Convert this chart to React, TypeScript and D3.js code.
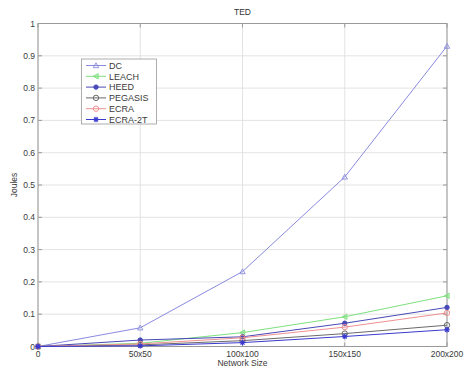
import React from "react";
import * as d3 from "d3";

const categories = ["0", "50x50", "100x100", "150x150", "200x200"];
const seriesNames = ["DC", "LEACH", "HEED", "PEGASIS", "ECRA", "ECRA-2T"];
const dc = [0, 0.058, 0.232, 0.525, 0.93];
const leach = [0, 0.01, 0.043, 0.092, 0.157];
const heed = [0, 0.02, 0.03, 0.072, 0.121];
const pegasis = [0, 0.005, 0.018, 0.04, 0.066];
const ecra = [0, 0.008, 0.027, 0.06, 0.104];
const ecra2t = [0, 0.002, 0.012, 0.031, 0.052];
const yTicks = [0, 0.1, 0.2, 0.3, 0.4, 0.5, 0.6, 0.7, 0.8, 0.9, 1];

const colors = ["#8a8ae0", "#7ee07e", "#4848b8", "#6a6a6a", "#f09090", "#3a3ad0"];
const markers = ["triangle", "triLeft", "dot", "circle", "circle", "star"];
const allSeries = [dc, leach, heed, pegasis, ecra, ecra2t];

function Marker({ type, x, y, color }: { type: string; x: number; y: number; color: string }) {
  const r = 2.7;
  if (type === "triangle")
    return <path d={`M${x},${y - r}L${x + r},${y + r * 0.8}L${x - r},${y + r * 0.8}Z`} fill="none" stroke={color} strokeWidth={0.9} />;
  if (type === "triLeft")
    return <path d={`M${x - r},${y}L${x + r * 0.8},${y - r}L${x + r * 0.8},${y + r}Z`} fill={color} fillOpacity={0.5} stroke={color} strokeWidth={0.9} />;
  if (type === "dot") return <circle cx={x} cy={y} r={2.2} fill={color} stroke={color} />;
  if (type === "circle") return <circle cx={x} cy={y} r={2.7} fill="none" stroke={color} strokeWidth={1} />;
  return (
    <g stroke={color} strokeWidth={1.2}>
      <line x1={x - r} y1={y} x2={x + r} y2={y} />
      <line x1={x} y1={y - r} x2={x} y2={y + r} />
      <line x1={x - 2} y1={y - 2} x2={x + 2} y2={y + 2} />
      <line x1={x - 2} y1={y + 2} x2={x + 2} y2={y - 2} />
    </g>
  );
}

export default function App() {
  const W = 465, H = 374;
  const left = 38, right = 447, top = 23.5, bottom = 346.5;
  const x = d3.scalePoint<string>().domain(categories).range([left, right]);
  const y = d3.scaleLinear().domain([0, 1]).range([bottom, top]);
  const line = d3.line<number>().x((_, i) => x(categories[i])!).y((v) => y(v));
  const font = "Liberation Sans, Arial, sans-serif";
  const textColor = "#3a3a3a";
  const fs = 8.5;
  return (
    <svg width={W} height={H} style={{ position: "absolute", left: 0, top: 0, background: "#fff" }} fontFamily={font}>
      <rect x={0} y={0} width={W} height={H} fill="#fff" />
      {categories.map((c) => (
        <line key={c} x1={x(c)} x2={x(c)} y1={top} y2={bottom} stroke="#dcdcdc" strokeWidth={0.8} />
      ))}
      {yTicks.map((t) => (
        <line key={t} x1={left} x2={right} y1={y(t)} y2={y(t)} stroke="#dcdcdc" strokeWidth={0.8} />
      ))}
      <rect x={left} y={top} width={right - left} height={bottom - top} fill="none" stroke="#999" strokeWidth={1} />
      {yTicks.map((t) => (
        <g key={"yt" + t}>
          <line x1={left} x2={left + 4} y1={y(t)} y2={y(t)} stroke="#999" />
          <line x1={right} x2={right - 4} y1={y(t)} y2={y(t)} stroke="#999" />
          <text x={left - 3} y={y(t) + 3} fontSize={fs} textAnchor="end" fill={textColor}>{t}</text>
        </g>
      ))}
      {categories.map((c) => (
        <g key={"xt" + c}>
          <line x1={x(c)} x2={x(c)} y1={bottom} y2={bottom - 4} stroke="#999" />
          <line x1={x(c)} x2={x(c)} y1={top} y2={top + 4} stroke="#999" />
          <text x={x(c)} y={bottom + 10} fontSize={fs} textAnchor="middle" fill={textColor}>{c}</text>
        </g>
      ))}
      {allSeries.map((s, i) => (
        <g key={seriesNames[i]}>
          <path d={line(s)!} fill="none" stroke={colors[i]} strokeWidth={1} />
          {s.map((v, j) => (
            <Marker key={j} type={markers[i]} x={x(categories[j])!} y={y(v)} color={colors[i]} />
          ))}
        </g>
      ))}
      <text x={(left + right) / 2} y={15} fontSize={fs} textAnchor="middle" fill="#333">TED</text>
      <text x={(left + right) / 2} y={366} fontSize={fs} textAnchor="middle" fill={textColor}>Network Size</text>
      <text transform={`translate(17,${(top + bottom) / 2}) rotate(-90)`} fontSize={fs} textAnchor="middle" fill={textColor}>Joules</text>
      <g>
        <rect x={81.5} y={59} width={75} height={65} fill="#fff" stroke="#999" strokeWidth={0.8} />
        {seriesNames.map((n, i) => {
          const ly = 65.5 + i * 10.8;
          return (
            <g key={"lg" + n}>
              <line x1={86} x2={106} y1={ly} y2={ly} stroke={colors[i]} />
              <Marker type={markers[i]} x={96} y={ly} color={colors[i]} />
              <text x={109} y={ly + 3.2} fontSize={9} fill={textColor}>{n}</text>
            </g>
          );
        })}
      </g>
    </svg>
  );
}
